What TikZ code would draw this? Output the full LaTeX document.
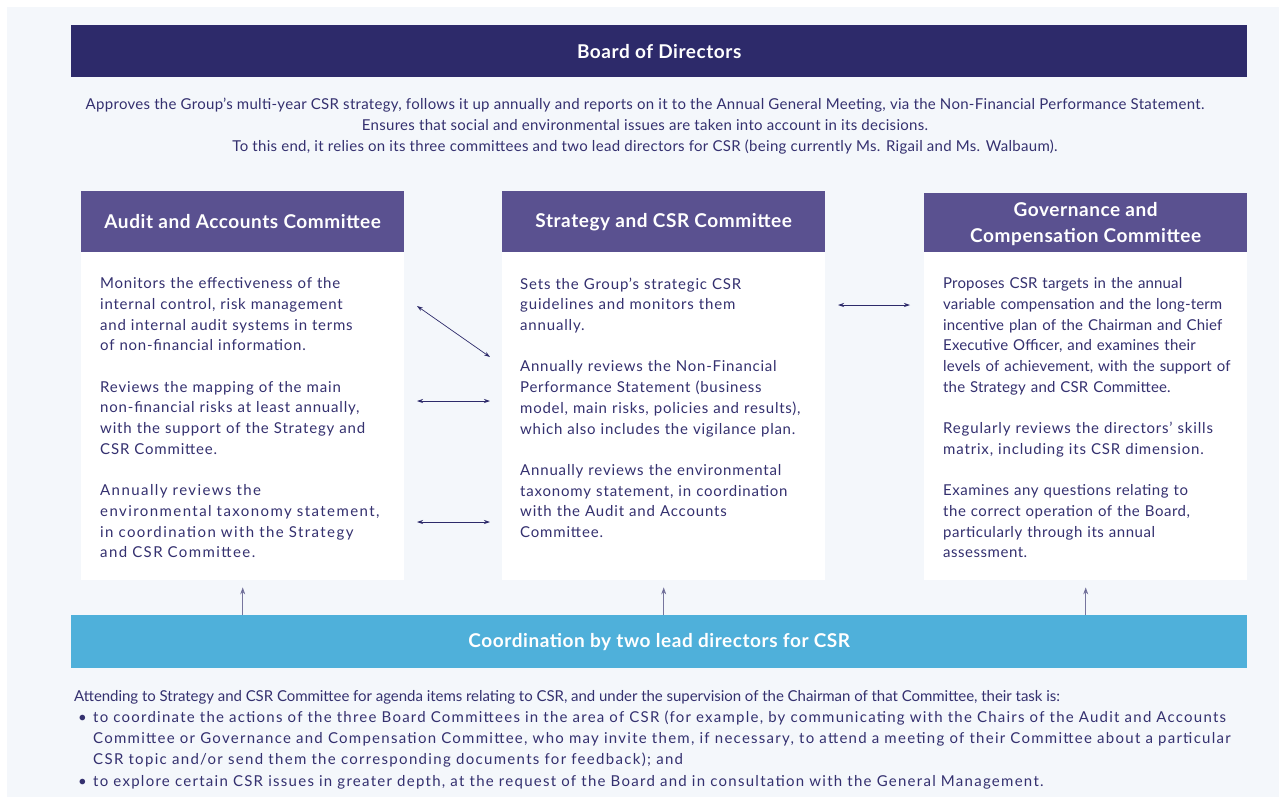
\documentclass[tikz,border=0pt]{standalone}
\usepackage{fontspec}
\setmainfont{Lato}
\usepackage{xcolor}
\usetikzlibrary{arrows.meta}

\definecolor{boardblue}{HTML}{2D2A6A}
\definecolor{cttepurple}{HTML}{5A5190}
\definecolor{leadcyan}{HTML}{4FB0DA}
\definecolor{inkblue}{HTML}{34306F}
\definecolor{panelgrey}{HTML}{F4F7FB}

\tikzset{
  headbar/.style={anchor=north west, inner sep=0pt, text=white,
    font=\fontsize{19}{26}\selectfont\bfseries\addfontfeature{LetterSpace=3}},
  boardbar/.style={headbar, fill=boardblue, minimum width=1176pt, minimum height=52pt},
  leadbar/.style={headbar, fill=leadcyan, minimum width=1176pt, minimum height=53pt},
  cttehead/.style={headbar, fill=cttepurple, align=center, minimum width=323pt, minimum height=61pt},
  cttebody/.style={anchor=north west, inner sep=0pt, fill=white, minimum width=323pt, minimum height=328pt},
  bodytext/.style={anchor=north west, inner sep=0pt, text=inkblue, align=left,
    font=\fontsize{15}{20.7}\selectfont},
  spaced/.style={font=\fontsize{15}{20.7}\selectfont\addfontfeature{LetterSpace=#1}},
  twoway/.style={draw=boardblue, line width=0.7pt,
    {Stealth[length=6pt,width=4pt]}-{Stealth[length=6pt,width=4pt]}},
  oneway/.style={draw=boardblue!65, line width=0.8pt,
    -{Stealth[length=7pt,width=5pt,fill=boardblue]}}
}

% letter spacing for a run of text
\newcommand{\track}[2]{{\addfontfeature{LetterSpace=#1}#2}}
\newcommand{\bul}{\hspace*{4pt}\makebox[15pt][l]{\textbullet}}
\newcommand{\bulgap}{\hspace*{19pt}}

\begin{document}
\begin{tikzpicture}[x=1pt,y=-1pt]
% page and panel
\fill[white] (0,0) rectangle (1286,804);
\useasboundingbox (0,0) rectangle (1286,804);
\fill[panelgrey] (7,7) rectangle (1279,797);

% Drawing the board
\node[boardbar] (board) at (71,25) {Board of Directors};
\node[bodytext, spaced=2, anchor=center, align=center] (boarddesc) at (645,126)
  {Approves the Group's multi-year CSR strategy, follows it up annually and reports on it to the Annual General Meeting, via the Non-Financial Performance Statement.\\
   Ensures that social and environmental issues are taken into account in its decisions.\\
   To this end, it relies on its three committees and two lead directors for CSR (being currently Ms. Rigail and Ms. Walbaum).};

% Drawing the committees
\node[cttehead] (audit) at (81,191) {Audit and Accounts Committee};
\node[cttehead] (strategy) at (502,191) {Strategy and CSR Committee};
\node[cttehead, yshift=-2pt] (governance) at (924,191) {Governance and\\Compensation Committee};

\node[cttebody] (auditbody) at (81,252) {};
\node[cttebody] (strategybody) at (502,252) {};
\node[cttebody] (governancebody) at (924,252) {};

\node[bodytext, text width=320pt] (audittext) at (100,277.5)
  {\track{5}{Monitors the effectiveness of the\\
   internal control, risk management\\
   and internal audit systems in terms\\
   of non-financial information.}\\[20.7pt]
   \track{5.5}{Reviews the mapping of the main\\
   non-financial risks at least annually,\\
   with the support of the Strategy and\\
   CSR Committee.}\\[20.7pt]
   \track{9.5}{Annually reviews the\\
   environmental taxonomy statement,\\
   in coordination with the Strategy\\
   and CSR Committee.}};

\node[bodytext, text width=320pt] (strategytext) at (520,277.5)
  {\track{5.5}{Sets the Group's strategic CSR\\
   guidelines and monitors them\\
   annually.}\\[20.7pt]
   \track{5}{Annually reviews the Non-Financial\\
   Performance Statement (business\\
   model, main risks, policies and results),\\
   which also includes the vigilance plan.}\\[20.7pt]
   \track{5.5}{Annually reviews the environmental\\
   taxonomy statement, in coordination\\
   with the Audit and Accounts\\
   Committee.}};

\node[bodytext, text width=320pt] (governancetext) at (943,277.5)
  {\track{1}{Proposes CSR targets in the annual\\
   variable compensation and the long-term\\
   incentive plan of the Chairman and Chief\\
   Executive Officer, and examines their\\
   levels of achievement, with the support of\\
   the Strategy and CSR Committee.}\\[20.7pt]
   \track{5.5}{Regularly reviews the directors' skills\\
   matrix, including its CSR dimension.}\\[20.7pt]
   \track{3.5}{Examines any questions relating to\\
   the correct operation of the Board,\\
   particularly through its annual\\
   assessment.}};

% Drawing links between committees
\coordinate (ln1) at (417,306);
\coordinate (rn1) at (490,357);
\coordinate (ln2) at (417,401);
\coordinate (rn2) at (490,401);
\coordinate (ln3) at (417,522);
\coordinate (rn3) at (490,522);
\coordinate (ln4) at (838,305);
\coordinate (rn4) at (910,305);
\draw[twoway] (ln1) -- (rn1);
\draw[twoway] (ln2) -- (rn2);
\draw[twoway] (ln3) -- (rn3);
\draw[twoway] (ln4) -- (rn4);

% Drawing the lead directors
\node[leadbar] (lead) at (71,615) {Coordination by two lead directors for CSR};
\draw[oneway] (lead.north -| auditbody.south) -- ([yshift=-7pt]auditbody.south);
\draw[oneway] (lead.north -| strategybody.south) -- ([yshift=-7pt]strategybody.south);
\draw[oneway] (lead.north -| governancebody.south) -- ([yshift=-7pt]governancebody.south);

\node[bodytext, font=\fontsize{15}{21.2}\selectfont] (leadtext) at (74,690)
  {\track{-0.3}{Attending to Strategy and CSR Committee for agenda items relating to CSR, and under the supervision of the Chairman of that Committee, their task is:}\\
   \bul\track{8.3}{to coordinate the actions of the three Board Committees in the area of CSR (for example, by communicating with the Chairs of the Audit and Accounts}\\
   \bulgap\track{8.5}{Committee or Governance and Compensation Committee, who may invite them, if necessary, to attend a meeting of their Committee about a particular}\\
   \bulgap\track{8.8}{CSR topic and/or send them the corresponding documents for feedback); and}\\
   \bul\track{8.5}{to explore certain CSR issues in greater depth, at the request of the Board and in consultation with the General Management.}};
\end{tikzpicture}
\end{document}
